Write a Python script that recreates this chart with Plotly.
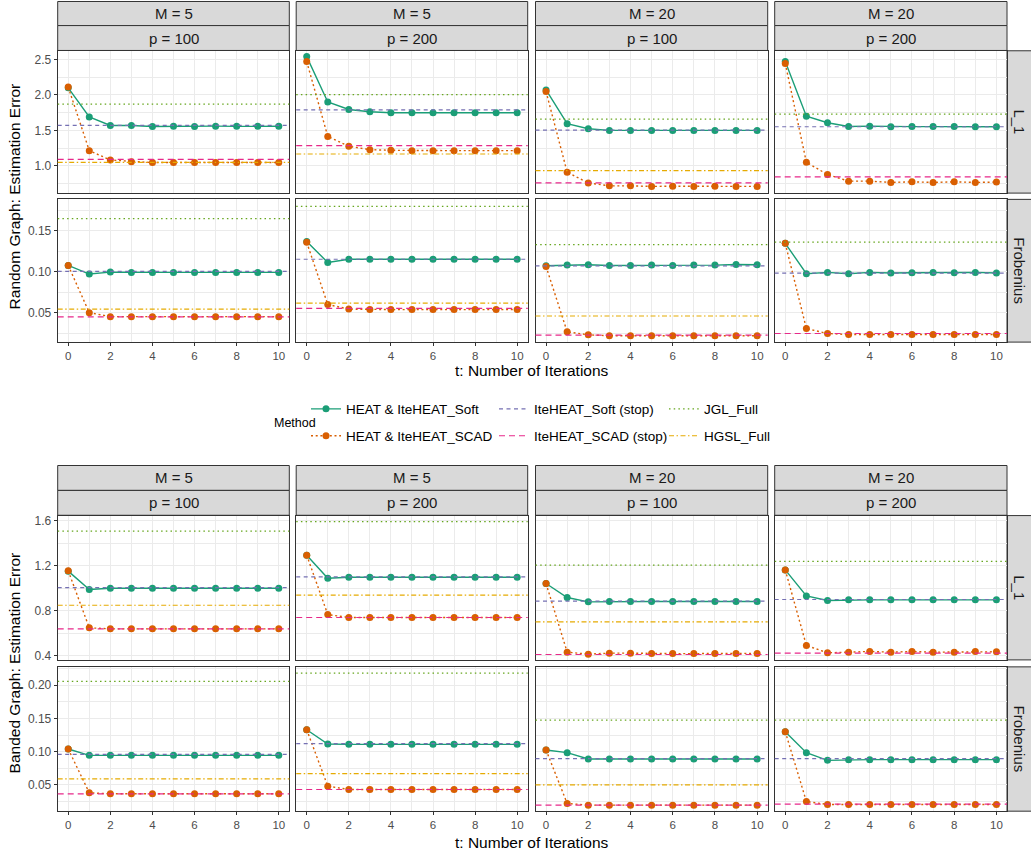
import plotly.graph_objects as go

W, H = 1031, 854
FONT = "Liberation Sans, Arial, sans-serif"

t_iter = list(range(11))
m_labels = ["M = 5", "M = 5", "M = 20", "M = 20"]
p_labels = ["p = 100", "p = 200", "p = 100", "p = 200"]
row_labels = ["L_1", "Frobenius"]
graph_titles = ["Random Graph: Estimation Error", "Banded Graph: Estimation Error"]
x_title = "t: Number of Iterations"
method_names = ["HEAT & IteHEAT_Soft", "HEAT & IteHEAT_SCAD", "IteHEAT_Soft (stop)",
                "IteHEAT_SCAD (stop)", "JGL_Full", "HGSL_Full"]

# ---------------- Random graph, L_1 norm ----------------
rand_l1_soft = [
    [2.10, 1.69, 1.57, 1.57, 1.555, 1.56, 1.555, 1.56, 1.557, 1.56, 1.558],
    [2.54, 1.90, 1.795, 1.762, 1.748, 1.748, 1.748, 1.748, 1.748, 1.748, 1.748],
    [2.07, 1.594, 1.524, 1.50, 1.50, 1.50, 1.50, 1.50, 1.50, 1.50, 1.50],
    [2.47, 1.70, 1.608, 1.556, 1.56, 1.552, 1.554, 1.554, 1.554, 1.552, 1.552],
]
rand_l1_scad = [
    [2.11, 1.215, 1.083, 1.06, 1.047, 1.049, 1.047, 1.049, 1.047, 1.049, 1.047],
    [2.47, 1.416, 1.276, 1.229, 1.22, 1.215, 1.215, 1.215, 1.215, 1.215, 1.215],
    [2.047, 0.911, 0.761, 0.719, 0.719, 0.711, 0.714, 0.711, 0.714, 0.711, 0.711],
    [2.444, 1.051, 0.879, 0.785, 0.785, 0.767, 0.776, 0.767, 0.776, 0.767, 0.772],
]
rand_l1_soft_stop = [1.57, 1.79, 1.504, 1.552]
rand_l1_scad_stop = [1.093, 1.285, 0.761, 0.845]
rand_l1_jgl = [1.869, 2.005, 1.658, 1.729]
rand_l1_hgsl = [1.051, 1.168, 0.935, None]

# ---------------- Random graph, Frobenius norm ----------------
rand_fr_soft = [
    [0.1077, 0.0972, 0.0996, 0.0992, 0.0992, 0.0992, 0.0992, 0.0992, 0.0992, 0.0992, 0.0992],
    [0.137, 0.1113, 0.1153, 0.1153, 0.1153, 0.1153, 0.1153, 0.1153, 0.1153, 0.1153, 0.1153],
    [0.1073, 0.1081, 0.1085, 0.1077, 0.1077, 0.1081, 0.1077, 0.1081, 0.1081, 0.1089, 0.1085],
    [0.1347, 0.0976, 0.0992, 0.0976, 0.0992, 0.0984, 0.0988, 0.0992, 0.0988, 0.0992, 0.0984],
]
rand_fr_scad = [
    [0.1077, 0.050, 0.0452, 0.0452, 0.0452, 0.0452, 0.0452, 0.0452, 0.0452, 0.0452, 0.0452],
    [0.1359, 0.060, 0.0544, 0.0538, 0.0538, 0.0538, 0.0538, 0.0538, 0.0538, 0.0538, 0.0538],
    [0.1065, 0.0266, 0.023, 0.0218, 0.0218, 0.0218, 0.0218, 0.0218, 0.0218, 0.0218, 0.0218],
    [0.1347, 0.0306, 0.0246, 0.0234, 0.0234, 0.0234, 0.0234, 0.0234, 0.0234, 0.0234, 0.0234],
]
rand_fr_soft_stop = [0.1004, 0.1153, 0.1073, 0.0984]
rand_fr_scad_stop = [0.0448, 0.0552, 0.0226, 0.0246]
rand_fr_jgl = [0.1649, 0.1798, 0.1331, 0.1363]
rand_fr_hgsl = [0.0544, 0.0617, 0.046, None]

# ---------------- Banded graph, L_1 norm ----------------
band_l1_soft = [
    [1.153, 0.99, 1.001, 1.001, 1.001, 1.001, 1.001, 1.001, 1.001, 1.001, 1.001],
    [1.295, 1.09, 1.099, 1.099, 1.099, 1.099, 1.099, 1.099, 1.099, 1.099, 1.099],
    [1.043, 0.919, 0.88, 0.883, 0.883, 0.883, 0.883, 0.883, 0.883, 0.883, 0.883],
    [1.164, 0.933, 0.892, 0.898, 0.898, 0.898, 0.898, 0.898, 0.898, 0.898, 0.898],
]
band_l1_scad = [
    [1.156, 0.649, 0.64, 0.64, 0.64, 0.64, 0.64, 0.64, 0.64, 0.64, 0.64],
    [1.295, 0.767, 0.741, 0.741, 0.741, 0.741, 0.741, 0.741, 0.741, 0.741, 0.741],
    [1.043, 0.433, 0.415, 0.424, 0.424, 0.42, 0.42, 0.42, 0.422, 0.422, 0.422],
    [1.164, 0.492, 0.427, 0.433, 0.439, 0.433, 0.439, 0.433, 0.433, 0.439, 0.436],
]
band_l1_soft_stop = [1.007, 1.102, 0.886, 0.901]
band_l1_scad_stop = [0.64, 0.741, 0.412, 0.424]
band_l1_jgl = [1.508, 1.594, 1.206, 1.239]
band_l1_hgsl = [0.85, 0.939, 0.702, None]

# ---------------- Banded graph, Frobenius norm ----------------
band_fr_soft = [
    [0.104, 0.0945, 0.0945, 0.0945, 0.0945, 0.0945, 0.0945, 0.0945, 0.0945, 0.0945, 0.0945],
    [0.1329, 0.1115, 0.111, 0.111, 0.111, 0.111, 0.111, 0.111, 0.111, 0.111, 0.111],
    [0.1025, 0.0985, 0.089, 0.089, 0.089, 0.089, 0.089, 0.089, 0.089, 0.089, 0.089],
    [0.130, 0.0985, 0.087, 0.088, 0.088, 0.088, 0.088, 0.088, 0.088, 0.088, 0.088],
]
band_fr_scad = [
    [0.104, 0.0382, 0.0367, 0.0367, 0.0367, 0.0367, 0.0367, 0.0367, 0.0367, 0.0367, 0.0367],
    [0.133, 0.0482, 0.0432, 0.0432, 0.0432, 0.0432, 0.0432, 0.0432, 0.0432, 0.0432, 0.0432],
    [0.1025, 0.0222, 0.0197, 0.0197, 0.0197, 0.0197, 0.0197, 0.0197, 0.0197, 0.0197, 0.0197],
    [0.130, 0.0252, 0.0207, 0.0207, 0.0207, 0.0207, 0.0207, 0.0207, 0.0207, 0.0207, 0.0207],
]
band_fr_soft_stop = [0.096, 0.112, 0.0895, 0.0895]
band_fr_scad_stop = [0.0367, 0.0432, 0.0197, 0.0212]
band_fr_jgl = [0.2057, 0.2181, 0.1474, 0.1474]
band_fr_hgsl = [0.0591, 0.0671, 0.050, None]

# per-row axis settings (ranges, ticks)
y_ranges = [[0.617, 2.622], [0.0141, 0.1884], [0.364, 1.647], [0.0106, 0.2274]]
y_dticks = [0.5, 0.05, 0.4, 0.05]
y_formats = [".1f", ".2f", ".1f", ".2f"]

panels = [
    (rand_l1_soft, rand_l1_scad, rand_l1_soft_stop, rand_l1_scad_stop, rand_l1_jgl, rand_l1_hgsl),
    (rand_fr_soft, rand_fr_scad, rand_fr_soft_stop, rand_fr_scad_stop, rand_fr_jgl, rand_fr_hgsl),
    (band_l1_soft, band_l1_scad, band_l1_soft_stop, band_l1_scad_stop, band_l1_jgl, band_l1_hgsl),
    (band_fr_soft, band_fr_scad, band_fr_soft_stop, band_fr_scad_stop, band_fr_jgl, band_fr_hgsl),
]

COLORS = ["#1B9E77", "#D95F02", "#7570B3", "#E7298A", "#66A61E", "#E6AB02"]
DASHES = ["solid", "2px,2.7px", "4px,3.5px", "6px,4px", "1.5px,3.2px", "5px,2.5px,1.5px,2.5px"]

# ---------------- layout geometry (pixels) ----------------
col_l = [57.7, 296.2, 535.5, 774.7]
col_r = [289.3, 527.7, 767.7, 1007.0]
row_tb = [[50.0, 193.0], [199.3, 342.7], [517.0, 662.0], [669.0, 814.0]]
strip_m = [[0.5, 24.7], [466.7, 491.7]]
strip_p = [[24.7, 49.7], [491.7, 516.7]]
xt_y = [371, 845]
GRID = "#EBEBEB"
DARK = "#333333"


def fx(p):
    return p / W


def fy(p):
    return 1 - p / H


fig = go.Figure()
layout = dict(width=W, height=H, margin=dict(l=0, r=0, t=0, b=0),
              paper_bgcolor="white", plot_bgcolor="white",
              font=dict(family=FONT, color="#000000"), showlegend=True)
shapes = []
annotations = []

for r in range(4):
    soft, scad, sstop, cstop, jgl, hgsl = panels[r]
    for c in range(4):
        k = r * 4 + c + 1
        xa = "xaxis" if k == 1 else f"xaxis{k}"
        ya = "yaxis" if k == 1 else f"yaxis{k}"
        xr = "x" if k == 1 else f"x{k}"
        yr = "y" if k == 1 else f"y{k}"
        bottom = (r % 2 == 1)
        layout[xa] = dict(
            domain=[fx(col_l[c]), fx(col_r[c])], anchor=yr, range=[-0.5, 10.5],
            tick0=0, dtick=2, showgrid=True, gridcolor=GRID, gridwidth=1.2,
            minor=dict(dtick=1, showgrid=True, gridcolor=GRID, gridwidth=0.6),
            showline=True, mirror=True, linecolor=DARK, linewidth=1,
            ticks="outside" if bottom else "", ticklen=3, tickcolor=DARK,
            showticklabels=bottom, tickfont=dict(size=11.5, color="#4D4D4D", family=FONT),
            zeroline=False, fixedrange=True)
        layout[ya] = dict(
            domain=[fy(row_tb[r][1]), fy(row_tb[r][0])], anchor=xr, range=y_ranges[r],
            tick0=0, dtick=y_dticks[r], tickformat=y_formats[r],
            showgrid=True, gridcolor=GRID, gridwidth=1.2,
            minor=dict(dtick=y_dticks[r] / 2, showgrid=True, gridcolor=GRID, gridwidth=0.6),
            showline=True, mirror=True, linecolor=DARK, linewidth=1,
            ticks="outside" if c == 0 else "", ticklen=3, tickcolor=DARK,
            showticklabels=(c == 0), tickfont=dict(size=12, color="#4D4D4D", family=FONT),
            zeroline=False, fixedrange=True)

        fig.add_trace(go.Scatter(x=t_iter, y=soft[c], mode="lines+markers", xaxis=xr, yaxis=yr,
                                 line=dict(color=COLORS[0], width=1.4, dash=DASHES[0]),
                                 marker=dict(color=COLORS[0], size=7), showlegend=False,
                                 hoverinfo="skip"))
        fig.add_trace(go.Scatter(x=t_iter, y=scad[c], mode="lines+markers", xaxis=xr, yaxis=yr,
                                 line=dict(color=COLORS[1], width=1.4, dash=DASHES[1]),
                                 marker=dict(color=COLORS[1], size=7), showlegend=False,
                                 hoverinfo="skip"))
        for j, vals in zip([2, 3, 4, 5], [sstop, cstop, jgl, hgsl]):
            v = vals[c]
            if v is None:
                continue
            shapes.append(dict(type="line", xref=f"{xr} domain", yref=yr, x0=0, x1=1, y0=v, y1=v,
                               line=dict(color=COLORS[j], width=1.2, dash=DASHES[j]),
                               layer="above"))

# ---------------- strips ----------------
for g in range(2):
    for c in range(4):
        for (top, bot), lab in ((strip_m[g], m_labels[c]), (strip_p[g], p_labels[c])):
            shapes.append(dict(type="rect", xref="paper", yref="paper",
                               x0=fx(col_l[c]), x1=fx(col_r[c]), y0=fy(bot), y1=fy(top),
                               fillcolor="#D9D9D9", line=dict(color=DARK, width=1), layer="below"))
            annotations.append(dict(text=lab, xref="paper", yref="paper",
                                    x=fx((col_l[c] + col_r[c]) / 2), y=fy((top + bot) / 2),
                                    showarrow=False, xanchor="center", yanchor="middle",
                                    font=dict(size=15, color="#1A1A1A", family=FONT)))
    for rr in range(2):
        top, bot = row_tb[g * 2 + rr]
        shapes.append(dict(type="rect", xref="paper", yref="paper",
                           x0=fx(1007.0), x1=fx(1031.5), y0=fy(bot), y1=fy(top),
                           fillcolor="#D9D9D9", line=dict(color=DARK, width=1), layer="below"))
        annotations.append(dict(text=row_labels[rr], xref="paper", yref="paper",
                                x=fx(1019.5), y=fy((top + bot) / 2), textangle=90,
                                showarrow=False, xanchor="center", yanchor="middle",
                                font=dict(size=15, color="#1A1A1A", family=FONT)))
    # y title
    annotations.append(dict(text=graph_titles[g], xref="paper", yref="paper",
                            x=fx(14), y=fy((row_tb[g * 2][0] + row_tb[g * 2 + 1][1]) / 2),
                            textangle=-90, showarrow=False, xanchor="center", yanchor="middle",
                            font=dict(size=15.5, color="#000000", family=FONT)))
    # x title
    annotations.append(dict(text=x_title, xref="paper", yref="paper",
                            x=fx((col_l[0] + col_r[3]) / 2), y=fy(xt_y[g]),
                            showarrow=False, xanchor="center", yanchor="middle",
                            font=dict(size=15.5, color="#000000", family=FONT)))

# ---------------- legend ----------------
annotations.append(dict(text="Method", xref="paper", yref="paper", x=fx(271.5), y=fy(424),
                        showarrow=False, xanchor="left", yanchor="middle",
                        font=dict(size=12.5, color="#000000", family=FONT)))
leg_text_x = [348, 348, 536, 536, 706, 706]
leg_y = [410, 437, 410, 437, 410, 437]
for j in range(6):
    lname = "legend" if j == 0 else f"legend{j + 1}"
    if j < 2:
        tr = go.Scatter(x=[None], y=[None], mode="lines+markers", name=method_names[j],
                        line=dict(color=COLORS[j], width=1.4, dash=DASHES[j]),
                        marker=dict(color=COLORS[j], size=7), legend=lname, showlegend=True)
    else:
        tr = go.Scatter(x=[None], y=[None], mode="lines", name=method_names[j],
                        line=dict(color=COLORS[j], width=1.2, dash=DASHES[j]),
                        legend=lname, showlegend=True)
    fig.add_trace(tr)
    layout[lname] = dict(x=fx(leg_text_x[j] - 42), y=fy(leg_y[j]), xanchor="left", yanchor="middle",
                         orientation="h", bgcolor="rgba(0,0,0,0)", borderwidth=0,
                         font=dict(size=13.5, color="#000000", family=FONT), itemwidth=30,
                         itemclick=False, itemdoubleclick=False)

layout["shapes"] = shapes
layout["annotations"] = annotations
fig.update_layout(**layout)
fig.write_html("out.html")
